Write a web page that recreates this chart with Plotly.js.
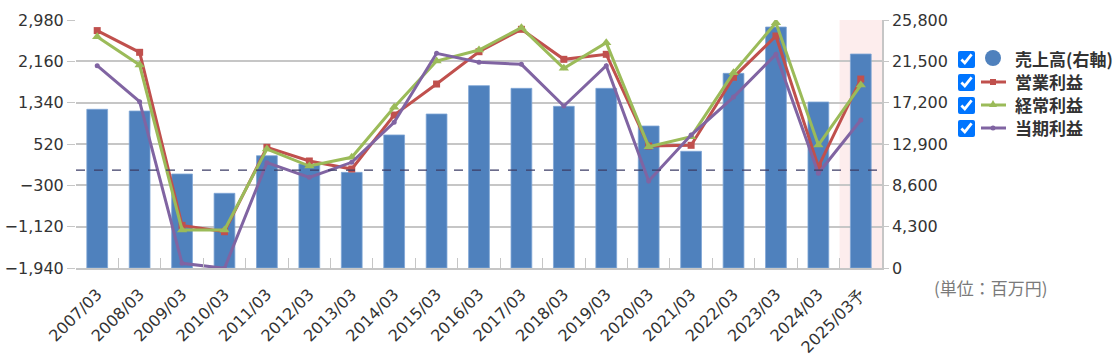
<!DOCTYPE html>
<html><head><meta charset="utf-8">
<script src="https://cdn.plot.ly/plotly-3.0.1.min.js"></script>
<style>
html,body{margin:0;padding:0;background:#fff;}
#wrap{position:relative;width:1120px;height:360px;}
#chart{position:absolute;left:0;top:0;width:1120px;height:360px;}
.lg{position:absolute;left:958px;height:20px;display:flex;align-items:center;font:bold 17px/20px "Noto Sans CJK JP",sans-serif;color:#333;white-space:nowrap;}
.lg input{width:17px;height:17px;margin:0 4px 0 0;accent-color:#0075ff;}
.lg svg{margin-right:6px;}
.lg span{line-height:20px;display:inline-block;height:20px;}
#unit{position:absolute;left:934px;top:278px;font:17px/20px "Noto Sans CJK JP",sans-serif;color:#7a7a7a;white-space:nowrap;}
</style></head>
<body><div id="wrap"><div id="chart"></div>
<div class="lg" style="top:49px"><input type="checkbox" checked><svg width="30" height="20"><circle cx="14" cy="9" r="8" fill="#4F81BD"/></svg><span>売上高(右軸)</span></div>
<div class="lg" style="top:72px"><input type="checkbox" checked><svg width="30" height="20"><line x1="2" y1="10" x2="27" y2="10" stroke="#C0504D" stroke-width="3"/><rect x="11" y="7" width="6" height="6" fill="#C0504D"/></svg><span>営業利益</span></div>
<div class="lg" style="top:95px"><input type="checkbox" checked><svg width="30" height="20"><line x1="2" y1="10" x2="27" y2="10" stroke="#9BBB59" stroke-width="3"/><polygon points="14,5 18,12 10,12" fill="#9BBB59"/></svg><span>経常利益</span></div>
<div class="lg" style="top:118px"><input type="checkbox" checked><svg width="30" height="20"><line x1="2" y1="10" x2="27" y2="10" stroke="#8064A2" stroke-width="3"/><circle cx="14" cy="10" r="2.5" fill="#8064A2"/></svg><span>当期利益</span></div>
<div id="unit">(単位：百万円)</div>
</div>
<script>
const categories = ['2007/03','2008/03','2009/03','2010/03','2011/03','2012/03','2013/03','2014/03','2015/03','2016/03','2017/03','2018/03','2019/03','2020/03','2021/03','2022/03','2023/03','2024/03','2025/03予'];
const sales     = [16510,16330,9780,7770,11680,10820,9950,13840,16020,18970,18690,16820,18690,14770,12140,20250,25070,17270,22260];
const operating = [2770,2339,-1094,-1220,454,183,24,1095,1710,2351,2795,2200,2299,480,494,1843,2663,70,1809];
const ordinary  = [2649,2087,-1186,-1186,420,83,256,1248,2167,2385,2828,2022,2530,467,665,1935,2926,500,1690];
const netIncome = [2074,1359,-1848,-1946,150,-141,157,950,2319,2141,2101,1274,2074,-214,698,1450,2299,-61,996];
const leftTicks  = [-1940,-1120,-300,520,1340,2160,2980];
const rightTicks = [0,4300,8600,12900,17200,21500,25800];
const seriesNames = ['売上高(右軸)','営業利益','経常利益','当期利益'];

const font = {family:'DejaVu Sans, sans-serif', size:16, color:'#333'};
const grid = '#c6c6c6';

const traces = [
  {type:'bar', name:seriesNames[0], x:categories, y:sales, yaxis:'y',
   marker:{color:'#4F81BD', line:{color:'#7fa6d6', width:0.8}}, hoverinfo:'x+y'},
  {type:'scatter', mode:'lines+markers', name:seriesNames[1], x:categories, y:operating, yaxis:'y2',
   line:{color:'#C0504D', width:3}, marker:{symbol:'square', size:7, color:'#C0504D'}},
  {type:'scatter', mode:'lines+markers', name:seriesNames[2], x:categories, y:ordinary, yaxis:'y2',
   line:{color:'#9BBB59', width:3}, marker:{symbol:'triangle-up', size:9, color:'#9BBB59'}},
  {type:'scatter', mode:'lines+markers', name:seriesNames[3], x:categories, y:netIncome, yaxis:'y2',
   line:{color:'#8064A2', width:3}, marker:{symbol:'circle', size:5, color:'#8064A2'}}
];

const layout = {
  width:1120, height:360,
  margin:{l:76, r:238, t:20, b:92, autoexpand:false},
  paper_bgcolor:'#fff', plot_bgcolor:'rgba(0,0,0,0)',
  showlegend:false, bargap:0.51, font:font,
  xaxis:{type:'category', range:[-0.5,18.5], autorange:false, tickangle:-45, ticks:'inside', ticklen:10, tickcolor:grid,
         tickson:'boundaries', showline:true, linecolor:grid, linewidth:1.5, showgrid:false,
         ticklabelstandoff:9, tickfont:font, fixedrange:true, automargin:false},
  yaxis:{side:'right', range:[0,25800], autorange:false, tickvals:rightTicks, tickformat:',d',
         showgrid:true, gridcolor:grid, gridwidth:1.5, zeroline:false,
         showline:true, linecolor:grid, linewidth:1.5, ticks:'outside', ticklen:5, tickcolor:grid,
         tickfont:font, fixedrange:true, automargin:false},
  yaxis2:{overlaying:'y', side:'left', range:[-1940,2980], autorange:false, tickvals:leftTicks, tickformat:',d',
          showgrid:false, zeroline:false, showline:false, ticks:'outside', ticklen:8, tickcolor:grid,
          tickfont:font, fixedrange:true, automargin:false},
  shapes:[
    {type:'rect', xref:'x', yref:'paper', x0:17.5, x1:18.5, y0:0, y1:1,
     fillcolor:'rgba(250,210,210,0.4)', line:{width:0}, layer:'below'},
    {type:'line', xref:'paper', yref:'y2', x0:0, x1:1, y0:0, y1:0,
     line:{color:'#3c3c66', width:1.2, dash:'dash'}, layer:'above'}
  ]
};
Plotly.newPlot('chart', traces, layout, {displayModeBar:false});
</script></body></html>
